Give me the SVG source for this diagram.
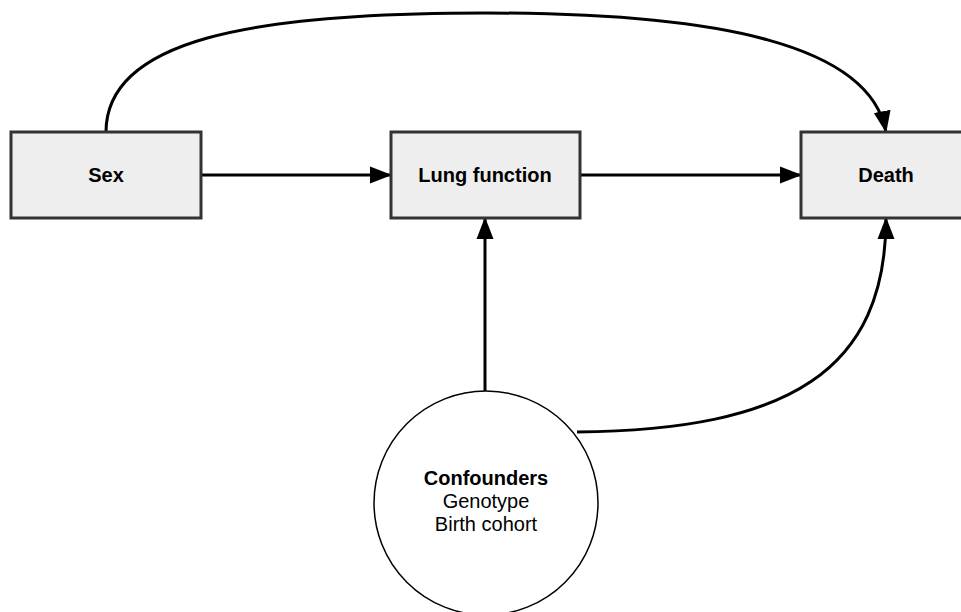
<svg xmlns="http://www.w3.org/2000/svg" width="961" height="612" viewBox="0 0 961 612">
<style>
.box{fill:#eeeeee;stroke:#333333;stroke-width:3}
.circ{fill:#ffffff;stroke:#000000;stroke-width:1.5}
.lbl{font-family:"Liberation Sans",Arial,sans-serif;font-size:20px;fill:#000;text-anchor:middle}
.b{font-weight:bold}
.edge{fill:none;stroke:#000;stroke-width:3}
</style>
<defs>
<marker id="arr" markerUnits="userSpaceOnUse" markerWidth="22" markerHeight="18" refX="21" refY="8.5" orient="auto" viewBox="0 0 22 17">
<path d="M0,0 L22,8.5 L0,17 z" fill="#000"/>
</marker>
</defs>
<rect width="961" height="612" fill="#ffffff"/>
<g id="connectors">
<path class="edge" d="M201,175 L391,175" marker-end="url(#arr)"/>
<path class="edge" d="M580,175 L801,175" marker-end="url(#arr)"/>
<path class="edge" d="M485,391 L485,218" marker-end="url(#arr)"/>
<path class="edge" d="M106,132 C106,40 250,13 485,13 C720,13 870,45 886,132" marker-end="url(#arr)"/>
<path class="edge" d="M577,432 C790,430 886,370 886,218" marker-end="url(#arr)"/>
</g>
<g id="sex">
<rect class="box" x="11" y="132" width="190" height="86"/>
<text class="lbl b" x="106" y="182">Sex</text>
</g>
<g id="lung">
<rect class="box" x="391" y="132" width="189" height="86"/>
<text class="lbl b" x="485" y="182">Lung function</text>
</g>
<g id="death">
<rect class="box" x="801" y="132" width="190" height="86"/>
<text class="lbl b" x="886" y="182">Death</text>
</g>
<g id="confounders">
<circle class="circ" cx="486" cy="503" r="112"/>
<text class="lbl b" x="486" y="485">Confounders</text>
<text class="lbl" x="486" y="508">Genotype</text>
<text class="lbl" x="486" y="531">Birth cohort</text>
</g>
</svg>
